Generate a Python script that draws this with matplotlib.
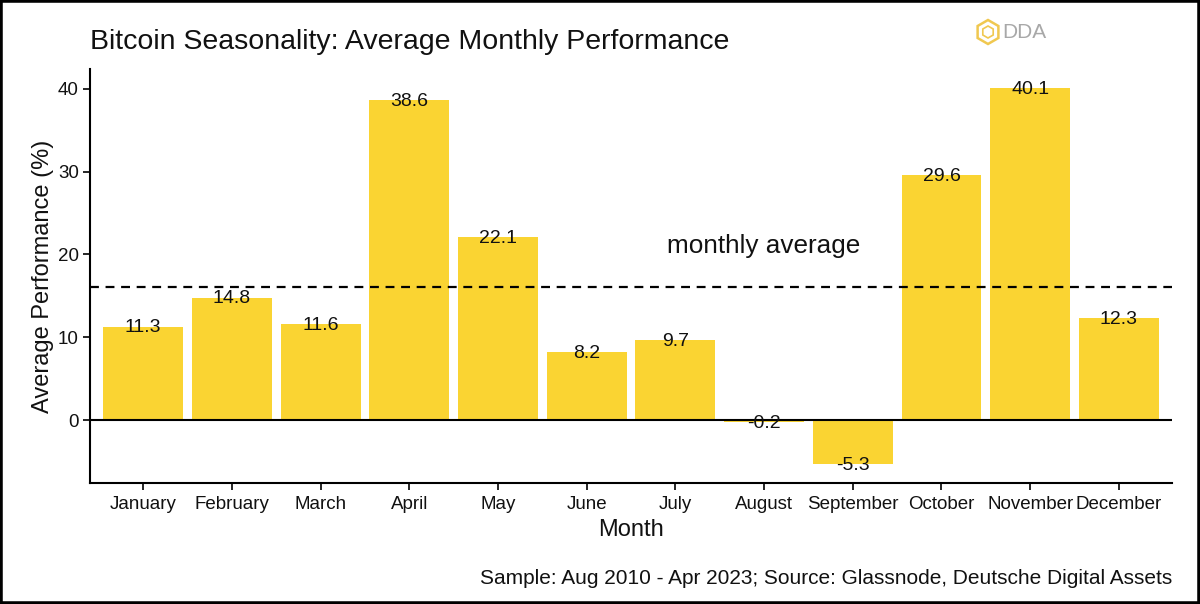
import matplotlib
matplotlib.use("Agg")
import matplotlib.pyplot as plt
from matplotlib.patches import Rectangle, RegularPolygon

plt.rcParams['font.family'] = ['Liberation Sans', 'DejaVu Sans']

months = ["January", "February", "March", "April", "May", "June", "July",
          "August", "September", "October", "November", "December"]
performance = [11.3, 14.8, 11.6, 38.6, 22.1, 8.2, 9.7, -0.2, -5.3, 29.6, 40.1, 12.3]
monthly_average = 16.07
y_ticks = [0, 10, 20, 30, 40]

bar_color = "#FAD432"

fig = plt.figure(figsize=(12, 6.04), dpi=100)
ax = fig.add_axes([0.075, 0.2003, 0.9017, 0.6855])

x = list(range(1, len(months) + 1))
ax.bar(x, performance, width=0.9, color=bar_color, zorder=2)
for xi, v in zip(x, performance):
    ax.text(xi, v - 0.15, f"{v:.1f}", ha="center", va="center", fontsize=14, color="#111111", zorder=4)

ax.axhline(0, color="black", lw=1.5, zorder=3)
ax.axhline(monthly_average, color="black", lw=1.6, dashes=(4, 3), zorder=3)
ax.text(8, 21, "monthly average", ha="center", va="center", fontsize=18.8, color="#111111")

ax.set_xlim(0.4, 12.6)
ax.set_ylim(-7.57, 42.37)
ax.set_xticks(x)
ax.set_xticklabels(months, fontsize=13.5, color="#111111")
ax.set_yticks(y_ticks)
ax.set_yticklabels([str(t) for t in y_ticks], fontsize=13.5, color="#111111")
ax.tick_params(axis="both", length=5, width=1.2, color="black", pad=3)
ax.tick_params(axis="x", pad=4)

for s in ["top", "right"]:
    ax.spines[s].set_visible(False)
for s in ["left", "bottom"]:
    ax.spines[s].set_linewidth(1.5)

ax.set_xlabel("Month", fontsize=17, color="#111111", labelpad=5)
ax.set_ylabel("Average Performance (%)", fontsize=17, color="#111111", labelpad=3)

fig.text(0.075, 1 - 42 / 604, "Bitcoin Seasonality: Average Monthly Performance",
         ha="left", va="center", fontsize=20.5, color="#111111")
fig.text(0.9767, 1 - 578 / 604, "Sample: Aug 2010 - Apr 2023; Source: Glassnode, Deutsche Digital Assets",
         ha="right", va="center", fontsize=15, color="#111111")

# logo
fig.patches.append(RegularPolygon((9.88, 6.04 - 0.32), numVertices=6, radius=0.12,
                                  orientation=0, transform=fig.dpi_scale_trans,
                                  facecolor="none", edgecolor="#F0C850", lw=1.8))
fig.patches.append(RegularPolygon((9.88, 6.04 - 0.32), numVertices=6, radius=0.06,
                                  orientation=0, transform=fig.dpi_scale_trans,
                                  facecolor="none", edgecolor="#F0C850", lw=1.2))
fig.text(1002 / 1200, 1 - 32 / 604, "DDA", ha="left", va="center", fontsize=15,
         color="#a8a8a8")

# outer frame
fig.patches.append(Rectangle((0, 0), 1, 1, transform=fig.transFigure, fill=False,
                             edgecolor="black", lw=4))

fig.savefig("out.png", dpi=100)
